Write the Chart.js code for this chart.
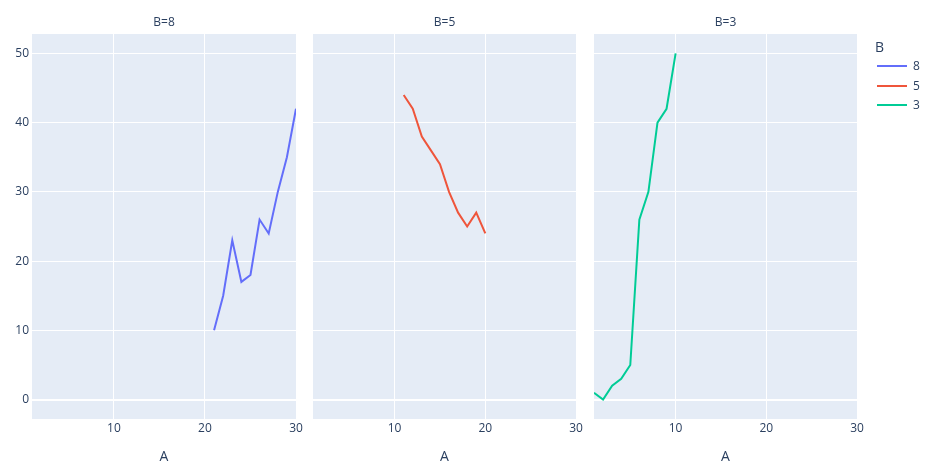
<!DOCTYPE html>
<html>
<head>
<meta charset="utf-8">
<script src="https://cdn.jsdelivr.net/npm/chart.js@4.4.1/dist/chart.umd.min.js"></script>
<style>
  body { margin: 0; background: #fff; font-family: "Open Sans", sans-serif; }
  .panel { position: absolute; top: 0; height: 471px; }
  #legend { position: absolute; left: 875px; top: 37px; color: #2a3f5f; font-size: 12px; }
  #legend .ttl { font-size: 14px; height: 20px; }
  #legend .item { position: relative; height: 19.5px; }
  #legend .swatch { position: absolute; left: 2px; top: 8px; width: 30px; height: 2px; }
  #legend .lbl { position: absolute; left: 38px; top: 0; }
</style>
</head>
<body>
<div class="panel" style="left:0px"><canvas id="c0" width="313" height="471"></canvas></div>
<div class="panel" style="left:296px"><canvas id="c1" width="297" height="471"></canvas></div>
<div class="panel" style="left:577px"><canvas id="c2" width="297" height="471"></canvas></div>
<div id="legend"></div>
<script>
// facet values of B, in panel order
const groups = ['8', '5', '3'];
const colors = ['#636efa', '#EF553B', '#00cc96'];

// A values per facet
const xB8 = [21, 22, 23, 24, 25, 26, 27, 28, 29, 30];
const xB5 = [11, 12, 13, 14, 15, 16, 17, 18, 19, 20];
const xB3 = [1, 2, 3, 4, 5, 6, 7, 8, 9, 10];

// y values per facet
const yB8 = [10, 15, 23, 17, 18, 26, 24, 30, 35, 42];
const yB5 = [44, 42, 38, 36, 34, 30, 27, 25, 27, 24];
const yB3 = [1, 0, 2, 3, 5, 26, 30, 40, 42, 50];

const xTicks = [10, 20, 30];
const yTicks = [0, 10, 20, 30, 40, 50];

const xs = [xB8, xB5, xB3];
const ys = [yB8, yB5, yB3];

const textColor = '#2a3f5f';

// plot background like plotly
const bgPlugin = {
    id: 'plotBg',
    beforeDraw(chart) {
        const a = chart.chartArea;
        const ctx = chart.ctx;
        ctx.save();
        ctx.fillStyle = '#E5ECF6';
        ctx.fillRect(a.left, a.top, a.right - a.left, a.bottom - a.top);
        ctx.restore();
    }
};

// facet title centred over the plot area
const facetTitle = {
    id: 'facetTitle',
    afterDraw(chart, args, opts) {
        const a = chart.chartArea;
        const ctx = chart.ctx;
        ctx.save();
        ctx.fillStyle = textColor;
        ctx.font = '12px "Open Sans"';
        ctx.textAlign = 'center';
        ctx.textBaseline = 'middle';
        ctx.fillText(opts.text, (a.left + a.right) / 2, a.top - 11);
        ctx.restore();
    }
};

function makePanel(idx) {
    const first = idx === 0;
    const pts = xs[idx].map((x, i) => ({ x: x, y: ys[idx][i] }));
    new Chart(document.getElementById('c' + idx), {
        type: 'line',
        data: {
            datasets: [{
                label: groups[idx],
                data: pts,
                borderColor: colors[idx],
                backgroundColor: colors[idx],
                borderWidth: 2,
                pointRadius: 0,
                tension: 0,
                fill: false
            }]
        },
        plugins: [bgPlugin, facetTitle],
        options: {
            responsive: false,
            animation: false,
            events: [],
            layout: { padding: { left: first ? 0 : 17, right: 17, top: 34, bottom: 0 } },
            plugins: {
                legend: { display: false },
                tooltip: { enabled: false },
                title: { display: false },
                facetTitle: { text: 'B=' + groups[idx] }
            },
            scales: {
                x: {
                    type: 'linear',
                    min: 1,
                    max: 30,
                    afterBuildTicks(s) { s.ticks = xTicks.map(v => ({ value: v })); },
                    afterFit(s) { s.height = 52; },
                    grid: { color: '#ffffff', lineWidth: 1, drawTicks: false },
                    border: { display: false },
                    ticks: {
                        color: textColor,
                        padding: 2,
                        maxRotation: 0,
                        font: { family: 'Open Sans', size: 12 }
                    },
                    title: {
                        display: true,
                        text: 'A',
                        color: textColor,
                        font: { family: 'Open Sans', size: 14 },
                        padding: { top: 0, bottom: 6 }
                    }
                },
                y: {
                    type: 'linear',
                    min: -2.8,
                    max: 52.8,
                    afterBuildTicks(s) { s.ticks = yTicks.map(v => ({ value: v })); },
                    afterFit(s) { s.width = first ? 32 : 0; },
                    grid: {
                        color: '#ffffff',
                        lineWidth: c => (c.tick && c.tick.value === 0 ? 2 : 1),
                        drawTicks: false
                    },
                    border: { display: false },
                    ticks: {
                        display: first,
                        color: textColor,
                        padding: 3,
                        font: { family: 'Open Sans', size: 12 }
                    }
                }
            }
        }
    });
}

groups.forEach((g, i) => makePanel(i));

// legend built from the same arrays
const legend = document.getElementById('legend');
legend.innerHTML = '<div class="ttl">B</div>' + groups.map((g, i) =>
    '<div class="item"><span class="swatch" style="background:' + colors[i] + '"></span>' +
    '<span class="lbl">' + g + '</span></div>').join('');
</script>
</body>
</html>
